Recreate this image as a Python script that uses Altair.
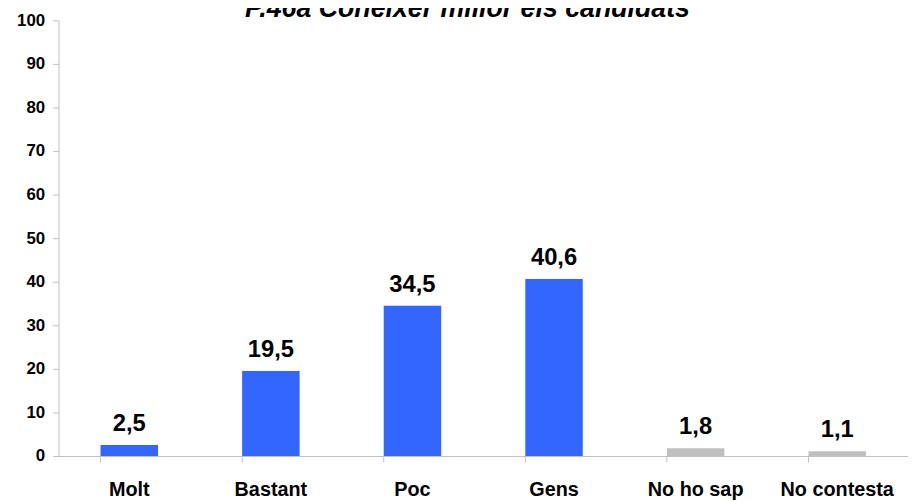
import altair as alt
import pandas as pd

categories = ["Molt", "Bastant", "Poc", "Gens", "No ho sap", "No contesta"]
values = [2.5, 19.5, 34.5, 40.6, 1.8, 1.1]
colors = ["#3366FF", "#3366FF", "#3366FF", "#3366FF", "#C0C0C0", "#C0C0C0"]
y_ticks = [0, 10, 20, 30, 40, 50, 60, 70, 80, 90, 100]
title_text = "P.46a Conèixer millor els candidats"

df = pd.DataFrame({
    "cat": categories,
    "val": values,
    "color": colors,
    "label": [f"{v:.1f}".replace(".", ",") for v in values],
})
title_df = pd.DataFrame({"t": [title_text]})

FONT = "Liberation Sans"

x = alt.X("cat:N", sort=categories,
          scale=alt.Scale(paddingInner=0.594, paddingOuter=0.297),
          axis=alt.Axis(title=None, labelAngle=0, labelFont=FONT, labelFontSize=20,
                        labelFontWeight="bold", labelColor="black", labelPadding=18,
                        tickSize=6, tickColor="#C0C0C0", domainColor="#C0C0C0",
                        bandPosition=0, labelBaseline="top"))

base = alt.Chart(df)

bars = base.mark_bar().encode(
    x=x,
    y=alt.Y("val:Q", scale=alt.Scale(domain=[0, 100], nice=False),
            axis=alt.Axis(title=None, values=y_ticks, grid=False, labelFont=FONT,
                          labelFontSize=17, labelFontWeight="bold", labelColor="black",
                          labelPadding=8, tickSize=6, tickColor="#C0C0C0",
                          domainColor="#C0C0C0")),
    color=alt.Color("color:N", scale=None),
)

text = base.mark_text(font=FONT, fontSize=24, fontWeight="bold", color="black",
                      baseline="alphabetic", dy=-14).encode(
    x=alt.X("cat:N", sort=categories),
    y="val:Q",
    text="label:N",
)

title = alt.Chart(title_df).mark_text(
    font=FONT, fontSize=27, fontWeight="bold", fontStyle="italic", color="black",
    baseline="alphabetic", align="center",
).encode(
    x=alt.value(413),
    y=alt.value(-3),
    text="t:N",
)

chart = (bars + text + title).properties(
    width=858,
    height=440,
    autosize=alt.AutoSizeParams(type="none"),
    padding={"left": 51, "top": 10, "right": 0, "bottom": 45},
).configure_view(stroke=None)

chart.save("out.html", embed_options={"renderer": "svg", "actions": False})
